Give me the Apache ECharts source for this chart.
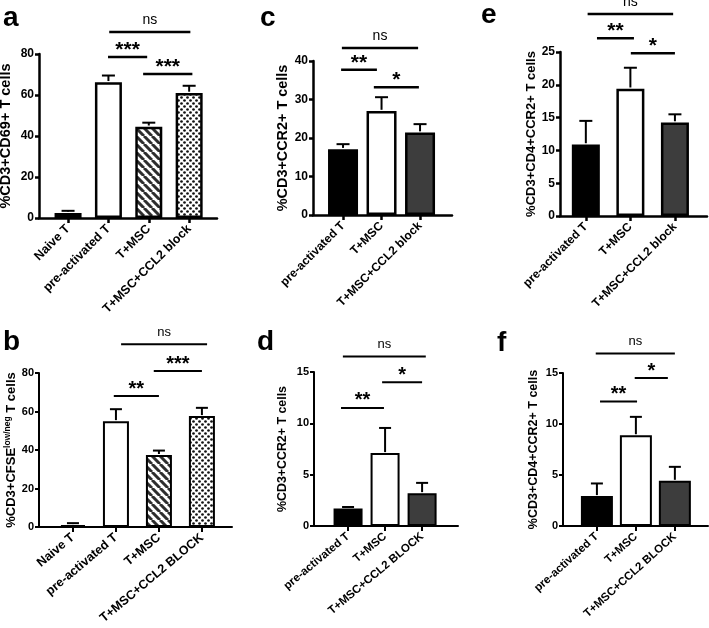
<!DOCTYPE html>
<html>
<head>
<meta charset="utf-8">
<script src="https://cdn.jsdelivr.net/npm/echarts@6/dist/echarts.min.js"></script>
<style>html,body{margin:0;padding:0;background:#fff}#c{width:709px;height:628px}</style>
</head>
<body>
<div id="c"></div>
<script>
// ---------- data ----------
const catsA = ['Naive T', 'pre-activated T', 'T+MSC', 'T+MSC+CCL2 block'];
const catsB = ['Naive T', 'pre-activated T', 'T+MSC', 'T+MSC+CCL2 BLOCK'];
const catsC = ['pre-activated T', 'T+MSC', 'T+MSC+CCL2 block'];
const catsD = ['pre-activated T', 'T+MSC', 'T+MSC+CCL2 BLOCK'];
const catsE = ['pre-activated T', 'T+MSC', 'T+MSC+CCL2 block'];
const catsF = ['pre-activated T', 'T+MSC', 'T+MSC+CCL2 BLOCK'];

const meanA = [2.5, 66.2, 44.5, 61.0];
const errA  = [1.0, 3.3, 2.0, 3.5];
const meanB = [1.0, 55.0, 37.4, 57.6];
const errB  = [1.0, 6.2, 2.3, 4.3];
const meanC = [17.1, 27.0, 21.4];
const errC  = [1.3, 3.6, 2.2];
const meanD = [1.7, 7.1, 3.2];
const errD  = [0.15, 2.45, 1.0];
const meanE = [10.9, 19.4, 14.25];
const errE  = [3.6, 3.2, 1.25];
const meanF = [2.93, 8.9, 4.43];
const errF  = [1.24, 1.8, 1.37];

// significance brackets: [from category, to category, height]
const sigA = [[1.02, 3.03, 90.7], [0.99, 1.96, 78.5], [1.86, 3.08, 70.2]];
const sigALabels = ['ns', '***', '***'];
const sigB = [[1.12, 3.12, 95], [1.88, 3.0, 81], [0.95, 2.0, 68]];
const sigBLabels = ['ns', '***', '**'];
const sigC = [[-0.03, 1.95, 43.4], [-0.05, 0.88, 37.7], [0.8, 1.97, 33.2]];
const sigCLabels = ['ns', '**', '*'];
const sigD = [[-0.14, 2.1, 16.5], [0.92, 2.0, 14.0], [-0.19, 0.97, 11.5]];
const sigDLabels = ['ns', '*', '**'];
const sigE = [[0.04, 1.96, 30.8], [0.25, 1.08, 27.1], [1.01, 2.0, 24.8]];
const sigELabels = ['ns', '**', '*'];
const sigF = [[-0.03, 2.0, 16.9], [0.97, 1.82, 14.5], [0.08, 1.03, 12.2]];
const sigFLabels = ['ns', '*', '**'];

const yTitleA = '%CD3+CD69+ T cells';
const yTitleB = '{n|%CD3+CFSE}{s|low/neg}{n| T cells}';
const yTitleC = '%CD3+CCR2+ T cells';
const yTitleD = '%CD3+CCR2+ T cells';
const yTitleE = '%CD3+CD4+CCR2+ T cells';
const yTitleF = '%CD3+CD4+CCR2+ T cells';

// ---------- fills ----------
function stripeCanvas() {
  const c = document.createElement('canvas'); c.width = 8; c.height = 8;
  const g = c.getContext('2d');
  g.fillStyle = '#fff'; g.fillRect(0, 0, 8, 8);
  g.strokeStyle = '#2e2e2e'; g.lineWidth = 3; g.beginPath();
  for (let k = -16; k <= 16; k += 8) { g.moveTo(k, 0); g.lineTo(k + 8, 8); }
  g.stroke();
  return c;
}
function dotCanvas() {
  const c = document.createElement('canvas'); c.width = 6; c.height = 6;
  const g = c.getContext('2d');
  g.fillStyle = '#fff'; g.fillRect(0, 0, 6, 6);
  g.fillStyle = '#111';
  [[1.5, 1.5], [4.5, 4.5]].forEach(p => { g.beginPath(); g.arc(p[0], p[1], 1.35, 0, Math.PI * 2); g.fill(); });
  return c;
}
const STRIPES = { image: stripeCanvas(), repeat: 'repeat' };
const DOTS = { image: dotCanvas(), repeat: 'repeat' };
const fills4 = ['#000', '#fff', STRIPES, DOTS];
const fills3 = ['#000', '#fff', '#3d3d3d'];

const FONT = '"Liberation Sans", Arial, sans-serif';

// ---------- panel layout ----------
const panels = [
  { letter: 'a', cats: catsA, mean: meanA, err: errA, sig: sigA, sigL: sigALabels, title: yTitleA, fills: fills4,
    grid: { left: 39, top: 54, width: 178, height: 164 }, xMin: -0.72, xMax: 3.69, yMax: 80, yInt: 20,
    barW: 27, cap: 13, tickFs: 12, catFs: 12.5, rot: 45, nameFs: 14.5, nameGap: 25.7, big: true, lx: 3, ly: 18 },
  { letter: 'b', cats: catsB, mean: meanB, err: errB, sig: sigB, sigL: sigBLabels, title: yTitleB, fills: fills4,
    grid: { left: 39, top: 373, width: 193, height: 154 }, xMin: -0.79, xMax: 3.7, yMax: 80, yInt: 20,
    barW: 26, cap: 12, tickFs: 11, catFs: 12.5, rot: 40, nameFs: 13, nameGap: 14, big: false, lx: 3, ly: 342 },
  { letter: 'c', cats: catsC, mean: meanC, err: errC, sig: sigC, sigL: sigCLabels, title: yTitleC, fills: fills3,
    grid: { left: 313, top: 61, width: 139, height: 154 }, xMin: -0.78, xMax: 2.83, yMax: 40, yInt: 10,
    barW: 30, cap: 13, tickFs: 12, catFs: 12, rot: 45, nameFs: 14.4, nameGap: 22.8, big: true, lx: 260, ly: 18 },
  { letter: 'd', cats: catsD, mean: meanD, err: errD, sig: sigD, sigL: sigDLabels, title: yTitleD, fills: fills3,
    grid: { left: 314, top: 372, width: 144, height: 154 }, xMin: -0.92, xMax: 2.97, yMax: 15, yInt: 5,
    barW: 29, cap: 12, tickFs: 11, catFs: 11.5, rot: 40, nameFs: 12.4, nameGap: 25.8, big: false, lx: 257, ly: 342 },
  { letter: 'e', cats: catsE, mean: meanE, err: errE, sig: sigE, sigL: sigELabels, title: yTitleE, fills: fills3,
    grid: { left: 560, top: 52, width: 147, height: 164 }, xMin: -0.58, xMax: 2.72, yMax: 25, yInt: 5,
    barW: 28, cap: 13, tickFs: 12, catFs: 12, rot: 45, nameFs: 13, nameGap: 20.5, big: true, lx: 481, ly: 15 },
  { letter: 'f', cats: catsF, mean: meanF, err: errF, sig: sigF, sigL: sigFLabels, title: yTitleF, fills: fills3,
    grid: { left: 563, top: 373, width: 145, height: 153 }, xMin: -0.87, xMax: 2.85, yMax: 15, yInt: 5,
    barW: 32, cap: 12, tickFs: 11, catFs: 11.5, rot: 42, nameFs: 12.5, nameGap: 22.75, big: false, lx: 497, ly: 343 }
];

const grid = [], xAxis = [], yAxis = [], series = [], graphic = [];

panels.forEach((p, i) => {
  const lw = p.big ? 2.5 : 2;
  grid.push(Object.assign({ containLabel: false, outerBoundsMode: 'none' }, p.grid));
  const idx = p.cats.map((c, k) => k);
  xAxis.push({
    type: 'value', gridIndex: i, min: p.xMin, max: p.xMax,
    splitLine: { show: false },
    axisLine: { show: true, onZero: false, lineStyle: { color: '#000', width: lw } },
    axisTick: { show: true, customValues: idx, length: 5, lineStyle: { color: '#000', width: lw } },
    axisLabel: {
      customValues: idx, rotate: p.rot, margin: 9, color: '#000', fontWeight: 'bold',
      fontFamily: FONT, fontSize: p.catFs, formatter: v => p.cats[Math.round(v)]
    }
  });
  const nameStyle = { color: '#000', fontWeight: 'bold', fontFamily: FONT, fontSize: p.nameFs };
  if (p.letter === 'b') {
    nameStyle.rich = {
      n: { color: '#000', fontWeight: 'bold', fontFamily: FONT, fontSize: p.nameFs, lineHeight: 16 },
      s: { color: '#000', fontWeight: 'bold', fontFamily: FONT, fontSize: 8.5, verticalAlign: 'top', lineHeight: 16 }
    };
  }
  yAxis.push({
    type: 'value', gridIndex: i, min: 0, max: p.yMax, interval: p.yInt,
    name: p.title, nameLocation: 'middle', nameGap: p.nameGap, nameTextStyle: nameStyle,
    splitLine: { show: false },
    axisLine: { show: true, onZero: false, lineStyle: { color: '#000', width: lw } },
    axisTick: { show: true, length: 4, lineStyle: { color: '#000', width: lw } },
    axisLabel: { margin: 5, color: '#000', fontWeight: 'bold', fontFamily: FONT, fontSize: p.tickFs }
  });
  series.push({
    type: 'bar', xAxisIndex: i, yAxisIndex: i, barWidth: p.barW, z: 2,
    data: p.mean.map((v, k) => ({ value: [k, v], itemStyle: { color: p.fills[k], borderColor: '#000', borderWidth: lw } }))
  });
  series.push({
    type: 'custom', xAxisIndex: i, yAxisIndex: i, z: 3, clip: false,
    data: p.mean.map((v, k) => [k, v, p.err[k]]),
    renderItem: (params, api) => {
      const x = api.value(0), m = api.value(1), e = api.value(2);
      const a = api.coord([x, m]), b = api.coord([x, m + e]);
      return { type: 'group', children: [
        { type: 'line', shape: { x1: a[0], y1: a[1] - lw / 2, x2: b[0], y2: b[1] }, style: { stroke: '#000', lineWidth: 2 } },
        { type: 'line', shape: { x1: b[0] - p.cap / 2, y1: b[1], x2: b[0] + p.cap / 2, y2: b[1] }, style: { stroke: '#000', lineWidth: 2 } }
      ] };
    }
  });
  series.push({
    type: 'custom', xAxisIndex: i, yAxisIndex: i, z: 3, clip: false,
    data: p.sig,
    renderItem: (params, api) => {
      const a = api.coord([api.value(0), api.value(2)]), b = api.coord([api.value(1), api.value(2)]);
      const lab = p.sigL[params.dataIndex];
      const isNs = lab === 'ns';
      const fs = isNs ? (p.big ? 14 : 13) : (p.big ? 21 : 20);
      const dy = isNs ? -11.8 : -7;
      return { type: 'group', children: [
        { type: 'line', shape: { x1: a[0], y1: a[1], x2: b[0], y2: b[1] }, style: { stroke: '#000', lineWidth: lw } },
        { type: 'text', style: { text: lab, x: (a[0] + b[0]) / 2, y: a[1] + dy, align: 'center', verticalAlign: 'middle',
          font: (isNs ? 'normal ' : 'bold ') + fs + 'px ' + FONT, fill: '#000' } }
      ] };
    }
  });
  graphic.push({ type: 'text', left: p.lx, top: p.ly - 14, style: { text: p.letter, font: 'bold 28px ' + FONT, fill: '#000' } });
});

const chart = echarts.init(document.getElementById('c'), null, { renderer: 'canvas' });
chart.setOption({ animation: false, backgroundColor: '#fff', grid, xAxis, yAxis, series, graphic });
</script>
</body>
</html>
